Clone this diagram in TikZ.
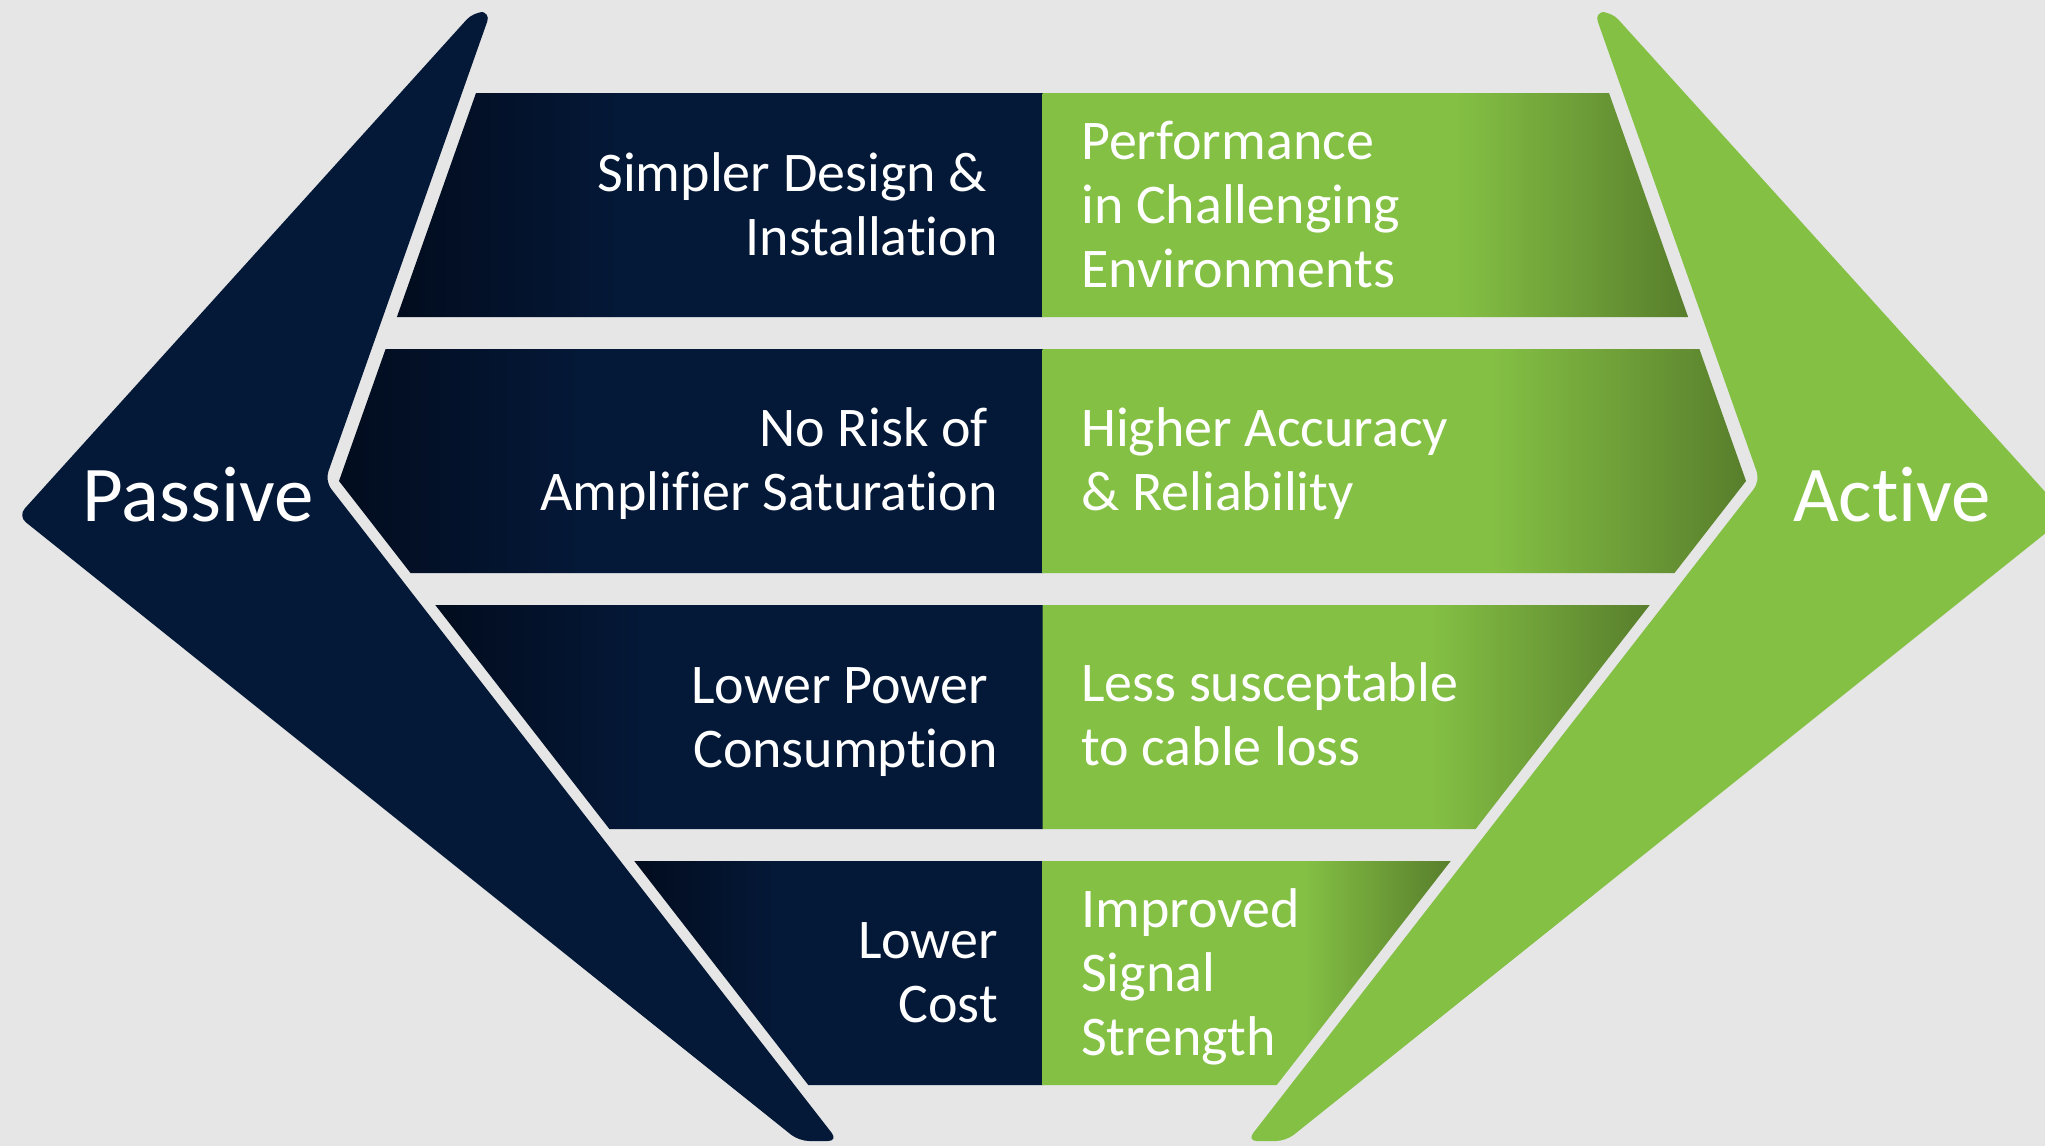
\documentclass[tikz,border=0pt]{standalone}
\usepackage{fontspec}
\setmainfont{Carlito}[Ligatures=NoCommon]
\definecolor{bg}{RGB}{230,230,230}
\definecolor{navymain}{RGB}{4,24,55}
\definecolor{navydark}{RGB}{2,12,30}
\definecolor{greenmain}{RGB}{132,192,68}
\definecolor{greendark}{RGB}{88,126,44}
\pgfdeclarehorizontalshading{navyband}{100bp}{color(0bp)=(navydark); color(25bp)=(navydark); color(42bp)=(navymain); color(100bp)=(navymain)}
\pgfdeclarehorizontalshading{greenband}{100bp}{color(0bp)=(greenmain); color(57bp)=(greenmain); color(75bp)=(greendark); color(100bp)=(greendark)}
\begin{document}
\begin{tikzpicture}[x=1pt,y=-1pt,
  bandtext/.style={text=white,font=\fontsize{56}{64}\selectfont,inner sep=0pt},
  bigtext/.style={text=white,font=\fontsize{79}{90}\selectfont,inner sep=0pt},
  navyshape/.style={shading=navyband},
  greenshape/.style={shading=greenband}]
\useasboundingbox (0,0) rectangle (2045,1146);
\fill[bg] (0,0) rectangle (2045,1146);
\begin{scope}
\clip (0,0) rectangle (2045,1146);
% big arrows
\fill[navymain,rounded corners=10pt] (473.5,12) -- (18,516) -- (799,1141) -- (838,1141) -- (325,481) -- (490.6,12) -- cycle;
\fill[greenmain,rounded corners=10pt] (1611.5,12) -- (2067,516) -- (1286,1141) -- (1247,1141) -- (1760,481) -- (1594.4,12) -- cycle;
% navy band halves
\shade[navyshape] (1043,93) -- (476,93) -- (396.9,317) -- (1043,317) -- cycle;
\shade[navyshape] (1043,349) -- (385.6,349) -- (339,481) -- (410.5,573) -- (1043,573) -- cycle;
\shade[navyshape] (1043,605) -- (435.3,605) -- (609.4,829) -- (1043,829) -- cycle;
\shade[navyshape] (1043,861) -- (634.3,861) -- (808.3,1085) -- (1043,1085) -- cycle;
% green band halves
\shade[greenshape] (1042.5,93) -- (1609,93) -- (1688.1,317) -- (1042.5,317) -- cycle;
\shade[greenshape] (1042.5,349) -- (1699.4,349) -- (1746,481) -- (1674.5,573) -- (1042.5,573) -- cycle;
\shade[greenshape] (1042.5,605) -- (1649.7,605) -- (1475.6,829) -- (1042.5,829) -- cycle;
\shade[greenshape] (1042.5,861) -- (1450.7,861) -- (1276.7,1085) -- (1042.5,1085) -- cycle;
\end{scope}
% texts
\node[bandtext,anchor=east,align=right] (p1) at (998,204.7) {Simpler Design \&\hspace*{11pt}\\Installation};
\node[bandtext,anchor=west,align=left] (a1) at (1081,204.7) {Performance\\in Challenging\\Environments};
\node[bandtext,anchor=east,align=right] (p2) at (998,463.7) {No Risk of\hspace*{10pt}\\Amplifier Saturation};
\node[bandtext,anchor=west,align=left] (a2) at (1081,463.7) {Higher Accuracy\\\& Reliability};
\node[bandtext,anchor=east,align=right] (p3) at (998,722.3) {Lower Power\hspace*{10pt}\\Consumption};
\node[bandtext,anchor=west,align=left] (a3) at (1081,714.7) {Less susceptable\\to cable loss};
\node[bandtext,anchor=east,align=right] (p4) at (998,972.3) {Lower\\Cost};
\node[bandtext,anchor=west,align=left] (a4) at (1081,976.7) {Improved\\Signal\\Strength};
\node[bigtext,anchor=base west] (passive) at (82,521) {Passive};
\node[bigtext,anchor=base west] (active) at (1793,521) {Active};
\end{tikzpicture}
\end{document}
